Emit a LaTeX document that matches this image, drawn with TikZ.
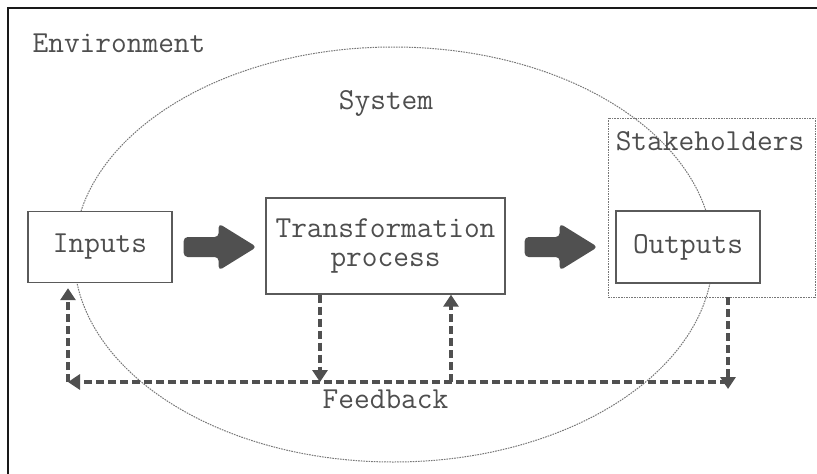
\documentclass[tikz,border=0pt]{standalone}
\usetikzlibrary{arrows.meta,calc}

\definecolor{ink}{HTML}{4E4E4E}
\definecolor{boxline}{HTML}{5A5A5A}
\definecolor{flow}{HTML}{505050}
\definecolor{hair}{HTML}{777777}

\tikzset{
  lbl/.style={text=ink, font=\ttfamily\fontsize{30.5}{29}\selectfont, inner sep=0pt},
  block/.style={lbl, draw=boxline, line width=1.4pt, fill=white, align=center},
  group/.style={draw=hair, line width=0.9pt, dash pattern=on 1.6pt off 1pt},
  fatarrow/.style={fill=flow, rounded corners=4pt},
  fb/.style={draw=flow, line width=3.6pt, dash pattern=on 8pt off 4pt,
             -{Triangle[length=12pt,width=15pt]}},
}

% broad block arrow starting at a given point, pointing right
\newcommand\fatarrowfrom[1]{%
  \fill[fatarrow] (#1) ++(0,-10) -- ++(35,0) -- ++(0,-13.5) -- ++(38,23.5)
    -- ++(-38,23.5) -- ++(0,-13.5) -- ++(-35,0) -- cycle;}

\begin{document}
\begin{tikzpicture}[x=1pt,y=-1pt]
\useasboundingbox (0,0) rectangle (817,474);

% outer frame of the environment
\begin{scope}
  \clip (0,0) rectangle (817,474);
  \draw[line width=2pt, black!90] (8,8) rectangle (840,500);
\end{scope}

\node[lbl] (env) at (119,43) {Environment};

% system boundary
\draw[group, line width=1pt] (393.5,254.5) ellipse [x radius=319.5, y radius=207.5];
\node[lbl] (sys) at (386,103) {System};

% stakeholders region
\node[group, minimum width=207pt, minimum height=179pt, inner sep=0pt] (stk) at (711.5,207.5) {};
\node[lbl] (stklbl) at (710,141) {Stakeholders};

% main blocks
\node[block, minimum width=144pt, minimum height=71pt] (in) at (100,247) {Inputs};
\node[block, minimum width=239pt, minimum height=96pt] (tr) at (385.5,246) {Transformation\\process};
\node[block, minimum width=144pt, minimum height=72pt] (out) at (688,247) {Outputs};

% block arrows between the stages
\coordinate (a1) at ($(in.east)+(11,0)$);
\coordinate (a2) at ($(tr.east)+(19,1)$);
\fatarrowfrom{a1}
\fatarrowfrom{a2}

% feedback loop
\coordinate (fbL) at (68,382);
\coordinate (fbR) at (728,382);
\coordinate (fbE) at (728,389);
\coordinate (d1) at (320,382);
\coordinate (u1) at (451,382);

\draw[fb] (stk.south -| fbR) -- (fbE);
\draw[fb] (fbR) -- (fbL);
\draw[fb, shorten >=5pt] (fbL) -- (in.south -| fbL);
\draw[fb] (tr.south -| d1) -- (d1);
\draw[fb] (u1) -- (tr.south -| u1);

\node[lbl] (fblbl) at (385.5,399) {Feedback};
\end{tikzpicture}
\end{document}
